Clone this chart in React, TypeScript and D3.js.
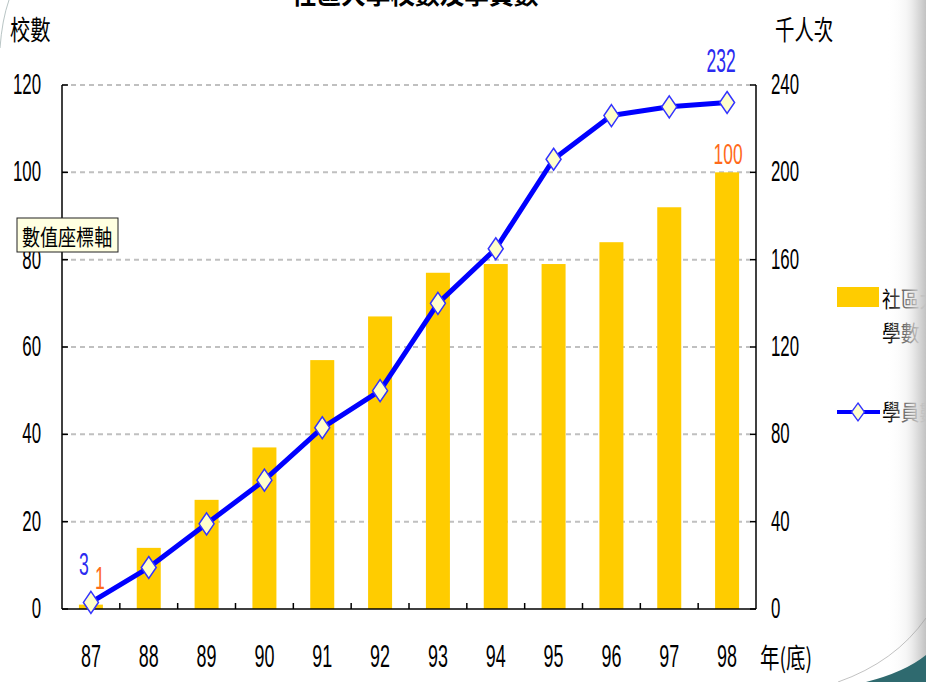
import React from "react";
import * as d3 from "d3";

const years = ["87", "88", "89", "90", "91", "92", "93", "94", "95", "96", "97", "98"];
const schools = [1, 14, 25, 37, 57, 67, 77, 79, 79, 84, 92, 100];
const students = [3, 19, 39, 59, 83, 100, 140, 165, 206, 226, 230, 232];
const leftTicks = [0, 20, 40, 60, 80, 100, 120];
const rightTicks = [0, 40, 80, 120, 160, 200, 240];

const NUM = "'Liberation Sans', Arial, sans-serif";
const CJK = "'Noto Sans CJK TC', 'Noto Sans CJK SC', sans-serif";

function T({ x, y, text, size, sx = 0.6, anchor = "start", fill = "#000", family = NUM, weight = "normal" }: any) {
  return (
    <g transform={`translate(${x},${y}) scale(${sx},1)`}>
      <text textAnchor={anchor} fontSize={size} fill={fill} fontFamily={family} fontWeight={weight}>
        {text}
      </text>
    </g>
  );
}

export default function App() {
  const W = 926, H = 682;
  const x0 = 62, x1 = 756, yTop = 85, yBot = 609;
  const x = d3.scaleBand<string>().domain(years).range([x0, x1]).padding(0);
  const yL = d3.scaleLinear().domain([0, 120]).range([yBot, yTop]);
  const yR = d3.scaleLinear().domain([0, 240]).range([yBot, yTop]);
  const cx = (d: string) => (x(d) as number) + x.bandwidth() / 2;
  const barW = 24;
  const line = d3
    .line<number>()
    .x((_, i) => cx(years[i]))
    .y((v) => yR(v));
  const dia = (px: number, py: number, hw = 7.5, hh = 11) =>
    `M${px},${py - hh}L${px + hw},${py}L${px},${py + hh}L${px - hw},${py}Z`;

  return (
    <svg width={W} height={H} style={{ position: "absolute", left: 0, top: 0, background: "#fff" }}>
      <defs>
        <linearGradient id="edge" x1="0" x2="1" y1="0" y2="0">
          <stop offset="0" stopColor="#ffffff" stopOpacity="0" />
          <stop offset="0.5" stopColor="#eeeeee" stopOpacity="0.5" />
          <stop offset="0.8" stopColor="#d6d6d6" stopOpacity="0.9" />
          <stop offset="1" stopColor="#c2c2c2" stopOpacity="1" />
        </linearGradient>
      </defs>
      <rect x={0} y={0} width={W} height={H} fill="#fff" />

      {/* title, cut at top */}
      <T x={415} y={4} text="社區大學校數及學員數" size={26} sx={0.95} anchor="middle" family={CJK} weight="bold" />

      {/* grid lines */}
      {leftTicks.filter((t) => t > 0).map((t) => (
        <line key={"g" + t} x1={x0} x2={x1} y1={yL(t)} y2={yL(t)} stroke="#c0c0c0" strokeWidth={2} strokeDasharray="5,4" />
      ))}

      {/* bars */}
      {schools.map((v, i) => (
        <rect key={"b" + i} x={cx(years[i]) - barW / 2} y={yL(v)} width={barW} height={yBot - yL(v)} fill="#ffcc00" />
      ))}

      {/* axes */}
      <line x1={x0} x2={x0} y1={yTop} y2={yBot} stroke="#000" strokeWidth={1.5} />
      <line x1={x1} x2={x1} y1={yTop} y2={yBot} stroke="#000" strokeWidth={1.5} />
      <line x1={x0} x2={x1} y1={yBot} y2={yBot} stroke="#000" strokeWidth={1.5} />
      {leftTicks.map((t) => (
        <line key={"lt" + t} x1={x0} x2={x0 + 6} y1={yL(t)} y2={yL(t)} stroke="#000" strokeWidth={1.5} />
      ))}
      {rightTicks.map((t) => (
        <line key={"rt" + t} x1={x1 - 6} x2={x1} y1={yR(t)} y2={yR(t)} stroke="#000" strokeWidth={1.5} />
      ))}
      {years.slice(1).map((d) => (
        <line key={"xt" + d} x1={x(d) as number} x2={x(d) as number} y1={yBot} y2={yBot - 6} stroke="#000" strokeWidth={1.5} />
      ))}

      {/* tick labels */}
      {leftTicks.map((t) => (
        <T key={"ll" + t} x={41} y={yL(t) + 9} text={String(t)} size={29} sx={0.58} anchor="end" />
      ))}
      {rightTicks.map((t) => (
        <T key={"rl" + t} x={771} y={yR(t) + 9} text={String(t)} size={29} sx={0.58} />
      ))}
      {years.map((d) => (
        <T key={"xl" + d} x={cx(d)} y={667} text={d} size={32} sx={0.56} anchor="middle" />
      ))}

      {/* axis titles */}
      <T x={10} y={40} text="校數" size={27} sx={0.75} family={CJK} />
      <T x={775} y={40} text="千人次" size={27} sx={0.72} family={CJK} />
      <T x={760} y={668} text="年(底)" size={27} sx={0.72} family={CJK} />

      {/* line */}
      <path d={line(students) as string} fill="none" stroke="#0000ff" strokeWidth={5} strokeLinejoin="round" />
      {students.map((v, i) => (
        <path key={"d" + i} d={dia(cx(years[i]), yR(v))} fill="#ffffcc" stroke="#3333ff" strokeWidth={1.5} />
      ))}

      {/* data labels */}
      <T x={cx(years[0]) - 7} y={575} text="3" size={32} sx={0.55} anchor="middle" fill="#2b2bf0" />
      <T x={cx(years[0]) + 9} y={589} text="1" size={32} sx={0.55} anchor="middle" fill="#ff6a1a" />
      <T x={cx(years[11]) - 6} y={72} text="232" size={33} sx={0.53} anchor="middle" fill="#2b2bf0" />
      <T x={cx(years[11]) + 1} y={164} text="100" size={29} sx={0.6} anchor="middle" fill="#ff6a1a" />

      {/* tooltip */}
      <rect x={17} y={218} width={101} height={34} fill="#ffffe1" stroke="#222" strokeWidth={1} />
      <T x={22} y={245} text="數值座標軸" size={22} sx={0.82} family={CJK} />

      {/* legend */}
      <rect x={837} y={287} width={42} height={20} fill="#ffcc00" />
      <T x={882} y={307} text="社區大學校" size={22} sx={0.85} family={CJK} />
      <T x={882} y={341} text="學數" size={22} sx={0.85} family={CJK} />
      <line x1={837} x2={880} y1={412} y2={412} stroke="#0000ff" strokeWidth={4} />
      <path d={dia(858, 412, 6.5, 9)} fill="#ffffcc" stroke="#3333ff" strokeWidth={1.3} />
      <T x={882} y={420} text="學員數" size={22} sx={0.85} family={CJK} />

      {/* slide decorations */}
      <rect x={886} y={0} width={40} height={H} fill="url(#edge)" />
      <path d="M0,48 Q2,20 9,0" fill="none" stroke="#9aa" strokeWidth={0.7} />
      <path d="M838,682 Q895,662 926,618" fill="none" stroke="#999" strokeWidth={0.6} />
      <path d="M866,682 Q905,672 926,655 L926,682 Z" fill="#2f6a6f" />
    </svg>
  );
}
